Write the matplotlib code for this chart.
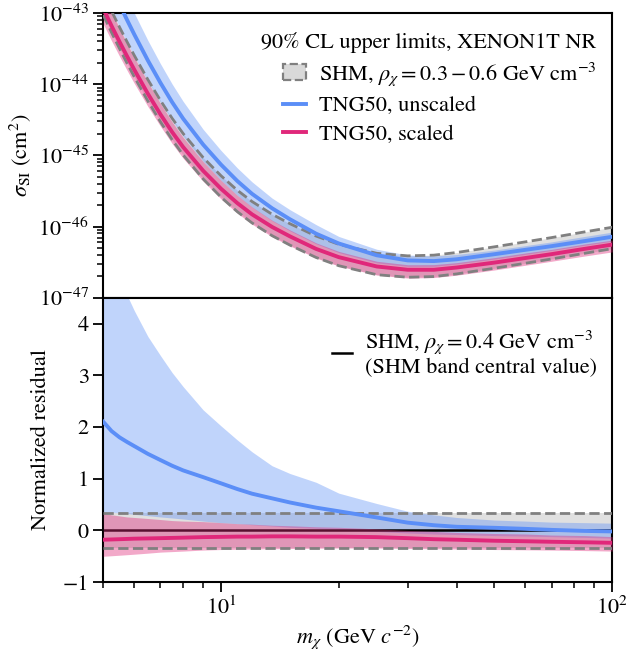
import matplotlib
matplotlib.use("Agg")
import matplotlib.pyplot as plt
import numpy as np
from matplotlib.patches import Patch
from matplotlib.lines import Line2D
from matplotlib.ticker import LogLocator, NullFormatter, FixedLocator

plt.rcParams['font.family'] = 'STIXGeneral'
plt.rcParams['mathtext.fontset'] = 'stix'
plt.rcParams['font.size'] = 16

# WIMP mass grid (GeV)
mass = [5, 5.25, 5.5, 5.75, 6, 6.5, 7, 7.5, 8, 9, 10, 11, 12, 13.5, 15, 17.5,
        20, 25, 30, 35, 40, 50, 60, 70, 85, 100]

# log10 of SHM limit at rho = 0.4 GeV/cm^3
log_shm = [-42.85, -43.096, -43.32, -43.527, -43.718, -44.059, -44.352, -44.604,
           -44.817, -45.155, -45.411, -45.614, -45.773, -45.952, -46.085, -46.259,
           -46.375, -46.501, -46.537, -46.527, -46.49, -46.41, -46.34, -46.28,
           -46.20, -46.135]

# normalized residuals w.r.t. SHM (rho = 0.4)
unsc_mid = [2.10, 1.92, 1.80, 1.71, 1.63, 1.48, 1.36, 1.25, 1.16, 1.03, 0.91, 0.80,
            0.71, 0.62, 0.54, 0.44, 0.37, 0.25, 0.15, 0.10, 0.07, 0.05, 0.03, 0.01,
            -0.01, -0.02]
unsc_hi = [5.9, 5.4, 4.95, 4.55, 4.25, 3.75, 3.38, 3.05, 2.78, 2.33, 2.02, 1.75,
           1.52, 1.25, 1.10, 0.93, 0.72, 0.52, 0.37, 0.30, 0.25, 0.20, 0.18, 0.16,
           0.15, 0.14]
unsc_lo = [0.36, 0.35, 0.34, 0.325, 0.31, 0.285, 0.26, 0.24, 0.22, 0.18, 0.15, 0.13,
           0.11, 0.085, 0.06, 0.04, 0.02, -0.02, -0.05, -0.07, -0.08, -0.10, -0.11,
           -0.12, -0.135, -0.15]
sc_mid = [-0.18, -0.175, -0.17, -0.165, -0.16, -0.155, -0.15, -0.145, -0.14, -0.13,
          -0.125, -0.12, -0.12, -0.115, -0.115, -0.12, -0.12, -0.13, -0.15, -0.17,
          -0.18, -0.20, -0.21, -0.22, -0.23, -0.24]
sc_hi = [0.33, 0.30, 0.28, 0.26, 0.25, 0.23, 0.21, 0.19, 0.18, 0.17, 0.15, 0.13,
         0.12, 0.10, 0.09, 0.07, 0.06, 0.03, 0.0, -0.02, -0.04, -0.06, -0.07, -0.09,
         -0.10, -0.12]
sc_lo = [-0.50, -0.49, -0.48, -0.47, -0.46, -0.44, -0.42, -0.41, -0.40, -0.38, -0.37,
         -0.365, -0.36, -0.355, -0.35, -0.345, -0.34, -0.34, -0.35, -0.355, -0.36,
         -0.37, -0.375, -0.38, -0.39, -0.40]

rho_lo, rho_mid, rho_hi = 0.3, 0.4, 0.6

m = np.array(mass)
shm = 10.0 ** np.array(log_shm)
shm_up = shm * rho_mid / rho_lo
shm_dn = shm * rho_mid / rho_hi

blue = '#5b8ef7'
red = '#e0287a'
grey = '#808080'

fig, (ax1, ax2) = plt.subplots(2, 1, figsize=(6.26, 6.6), dpi=100, sharex=True)
fig.subplots_adjust(left=0.165, right=0.978, top=0.980, bottom=0.118, hspace=0)

# top panel
ax1.fill_between(m, shm_dn, shm_up, color='#d9d9d9', alpha=0.8, lw=0, zorder=1)
ax1.fill_between(m, shm * (1 + np.array(unsc_lo)), shm * (1 + np.array(unsc_hi)),
                 color=blue, alpha=0.38, lw=0, zorder=2)
ax1.fill_between(m, shm * (1 + np.array(sc_lo)), shm * (1 + np.array(sc_hi)),
                 color=red, alpha=0.4, lw=0, zorder=3)
ax1.plot(m, shm_up, '--', color=grey, lw=2, zorder=4)
ax1.plot(m, shm_dn, '--', color=grey, lw=2, zorder=4)
ax1.plot(m, shm * (1 + np.array(unsc_mid)), color=blue, lw=2.8, zorder=5)
ax1.plot(m, shm * (1 + np.array(sc_mid)), color=red, lw=2.8, zorder=6)

ax1.set_xscale('log')
ax1.set_yscale('log')
ax1.set_xlim(5, 100)
ax1.set_ylim(1e-47, 1e-43)
ax1.set_ylabel(r'$\sigma_{\mathrm{SI}}$ (cm$^2$)', labelpad=4)
ax1.yaxis.set_minor_locator(LogLocator(base=10, subs=np.arange(2, 10), numticks=20))
ax1.yaxis.set_minor_formatter(NullFormatter())

handles = [Patch(facecolor='#d9d9d9', edgecolor=grey, linestyle='--', lw=1.6),
           Line2D([], [], color=blue, lw=2.8),
           Line2D([], [], color=red, lw=2.8)]
labels = [r'SHM, $\rho_\chi = 0.3-0.6$ GeV cm$^{-3}$',
          'TNG50, unscaled', 'TNG50, scaled']
ax1.legend(handles, labels, loc='upper right', bbox_to_anchor=(1.0, 0.99),
           frameon=False, title='90% CL upper limits, XENON1T NR',
           alignment='right', title_fontsize=16, handlelength=1.0,
           handletextpad=0.6, borderaxespad=0.3, labelspacing=0.35)

# bottom panel
ax2.fill_between(m, -1 + rho_mid / rho_hi, rho_mid / rho_lo - 1, color='#d9d9d9',
                 alpha=0.8, lw=0, zorder=1)
ax2.fill_between(m, unsc_lo, unsc_hi, color=blue, alpha=0.38, lw=0, zorder=2)
ax2.axhline(0, color='black', lw=1.8, zorder=3)
ax2.fill_between(m, sc_lo, sc_hi, color=red, alpha=0.4, lw=0, zorder=4)
ax2.axhline(rho_mid / rho_lo - 1, ls='--', color=grey, lw=2, zorder=5)
ax2.axhline(rho_mid / rho_hi - 1, ls='--', color=grey, lw=2, zorder=5)
ax2.plot(m, unsc_mid, color=blue, lw=2.8, zorder=6)
ax2.plot(m, sc_mid, color=red, lw=2.8, zorder=7)

ax2.set_ylim(-1, 4.5)
ax2.yaxis.set_major_locator(FixedLocator([-1, 0, 1, 2, 3, 4]))
ax2.set_ylabel('Normalized residual', labelpad=8)
ax2.set_xlabel(r'$m_\chi$ (GeV $c^{-2}$)', labelpad=3)
ax2.legend([Line2D([], [], color='black', lw=1.8)],
           ['SHM, $\\rho_\\chi = 0.4$ GeV cm$^{-3}$\n(SHM band central value)'],
           loc='upper right', bbox_to_anchor=(0.997, 0.94), frameon=False,
           handlelength=0.9, handletextpad=0.6, borderaxespad=0.2)

for ax in (ax1, ax2):
    for s in ax.spines.values():
        s.set_linewidth(1.5)
    ax.tick_params(which='major', direction='out', length=7, width=1.3, labelsize=16)
    ax.tick_params(which='minor', direction='out', length=4.5, width=1.1)
    ax.set_xlim(5, 100)
ax1.tick_params(axis='x', which='both', labelbottom=False)

fig.savefig('out.png', dpi=100)
